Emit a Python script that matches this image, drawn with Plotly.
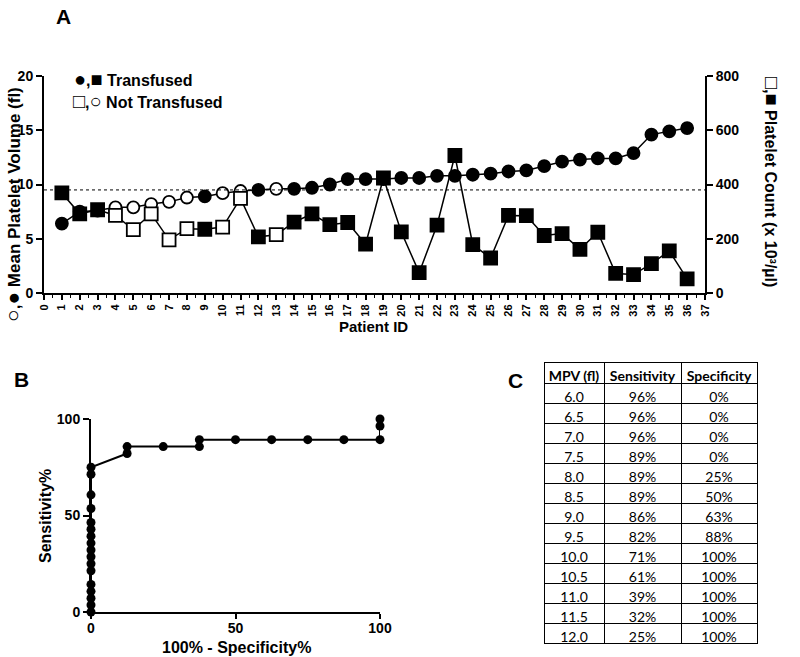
import plotly.graph_objects as go

# Panel A data
patient = list(range(1, 37))
mpv = [6.4, 7.5, 7.6, 7.9, 7.9, 8.2, 8.4, 8.8, 8.9, 9.2, 9.4, 9.5, 9.6, 9.6, 9.7, 10.0, 10.5, 10.5,
       10.5, 10.6, 10.6, 10.8, 10.8, 10.9, 11.0, 11.2, 11.3, 11.7, 12.1, 12.3, 12.4, 12.4, 12.9, 14.6, 14.9, 15.2]
platelets = [369, 292, 307, 286, 234, 292, 196, 237, 235, 243, 349, 207, 215, 261, 292, 252, 260, 180,
             424, 225, 75, 250, 507, 178, 129, 286, 285, 212, 219, 161, 224, 72, 68, 108, 155, 52]
transfused = [1, 1, 1, 0, 0, 0, 0, 0, 1, 0, 0, 1, 0] + [1] * 23
mpv_cutoff = 9.5

# Panel B data (ROC)
roc_x = [0] * 17 + [12.5, 12.5, 25, 37.5, 37.5, 50, 62.5, 75, 87.5, 100, 100, 100]
roc_y = [0, 3.6, 7.1, 10.7, 14.3, 21.4, 25, 28.6, 32.1, 35.7, 39.3, 42.9, 46.4, 53.6, 60.7, 71.4, 75.0,
         82.1, 85.7, 85.7, 85.7, 89.3, 89.3, 89.3, 89.3, 89.3, 89.3, 96.4, 100]

# Panel C data (table)
table_header = ["MPV\u00a0(fl)", "Sensitivity", "Specificity"]
mpv_cut = ["6.0", "6.5", "7.0", "7.5", "8.0", "8.5", "9.0", "9.5", "10.0", "10.5", "11.0", "11.5", "12.0"]
sensitivity = ["96%", "96%", "96%", "89%", "89%", "89%", "86%", "82%", "71%", "61%", "39%", "32%", "25%"]
specificity = ["0%", "0%", "0%", "0%", "25%", "50%", "63%", "88%", "100%", "100%", "100%", "100%", "100%"]

W, H = 800, 657
FONT = "Liberation Sans"
fill = ["black" if t else "white" for t in transfused]


def px(x):
    return x / W


def py(y):
    return 1 - y / H


def big(s, size=20):
    return f'<span style="font-size:{size}px">{s}</span>'


fig = go.Figure()

fig.add_trace(go.Scatter(
    x=patient, y=mpv, mode="lines+markers", xaxis="x", yaxis="y",
    line=dict(color="black", width=1.5),
    marker=dict(symbol="circle", size=12, color=fill, line=dict(color="black", width=1.8)),
    cliponaxis=False, showlegend=False,
))
fig.add_trace(go.Scatter(
    x=patient, y=platelets, mode="lines+markers", xaxis="x", yaxis="y2",
    line=dict(color="black", width=1.5),
    marker=dict(symbol="square", size=13, color=fill, line=dict(color="black", width=1.8)),
    cliponaxis=False, showlegend=False,
))
fig.add_trace(go.Scatter(
    x=roc_x, y=roc_y, mode="lines+markers", xaxis="x3", yaxis="y3",
    line=dict(color="black", width=2),
    marker=dict(symbol="circle", size=9, color="black"),
    cliponaxis=False, showlegend=False,
))

fig.add_trace(go.Table(
    domain=dict(x=[px(544), px(758)], y=[py(645), py(362)]),
    columnwidth=[60, 77, 76],
    header=dict(values=table_header,
                align="center", height=21, fill_color="white",
                line=dict(color="black", width=1),
                font=dict(family="Lato", size=14, color="black", weight="bold")),
    cells=dict(values=[mpv_cut, sensitivity, specificity],
               align="center", height=20, fill_color="white",
               line=dict(color="black", width=1),
               font=dict(family="Lato", size=14, color="black")),
))

axis_common = dict(showline=True, linecolor="black", linewidth=2, ticks="outside",
                   tickcolor="black", tickwidth=2, showgrid=False, zeroline=False,
                   automargin=False,
                   tickfont=dict(family=FONT, size=14, color="black", weight="bold"))

fig.update_layout(
    width=W, height=H, autosize=False,
    margin=dict(l=0, r=0, t=0, b=0, autoexpand=False),
    paper_bgcolor="white", plot_bgcolor="white",
    font=dict(family=FONT, color="black"),
    xaxis=dict(axis_common, domain=[px(44), px(705)], anchor="y", range=[0, 37],
               tickmode="linear", tick0=0, dtick=1, ticklen=5, tickangle=-90,
               tickfont=dict(family=FONT, size=11, color="black", weight="bold"),
               minor=dict(ticks="outside", dtick=0.5, ticklen=3, tickcolor="black", tickwidth=1)),
    yaxis=dict(axis_common, domain=[py(293), py(76)], anchor="x", range=[0, 20],
               tickvals=[0, 5, 10, 15, 20], ticklen=6),
    yaxis2=dict(axis_common, overlaying="y", side="right", anchor="x", range=[0, 800],
                tickvals=[0, 200, 400, 600, 800], ticklen=6),
    xaxis3=dict(axis_common, domain=[px(91), px(380)], anchor="y3", range=[0, 100],
                tickvals=[0, 50, 100], ticklen=5, ticklabelstandoff=-3),
    yaxis3=dict(axis_common, domain=[py(612), py(419)], anchor="x3", range=[0, 100],
                tickvals=[0, 50, 100], ticklen=6),
    shapes=[dict(type="line", xref="x", yref="y", x0=0, x1=37, y0=mpv_cutoff, y1=mpv_cutoff,
                 line=dict(color="black", width=1, dash="dot"))],
)

annots = [
    ("<b>A</b>", 63, 16, 21, 0),
    ("<b>B</b>", 21, 379, 21, 0),
    ("<b>C</b>", 515, 380, 21, 0),
    (f"<b>{big('●')},{big('■')} Transfused</b>", 133, 79, 16, 0),
    (f"<b>{big('□')},{big('○')} Not Transfused</b>", 148, 101, 16, 0),
    ("<b>Patient ID</b>", 373, 326, 15, 0),
    (f"<b>{big('○', 21)},{big('●', 21)} Mean Platelet Volume (fl)</b>", 12, 205, 17, -90),
    (f"<b>{big('□')},{big('■')} Platelet Count (x 10³/µl)</b>", 772, 182, 16, 90),
    ("<b>Sensitivity%</b>", 45, 516, 16, -90),
    ("<b>100% - Specificity%</b>", 236, 647, 16, 0),
]
fig.update_layout(annotations=[
    dict(text=t, x=px(x), y=py(y), xref="paper", yref="paper", showarrow=False,
         textangle=a, font=dict(family=FONT, size=s, color="black"),
         xanchor="center", yanchor="middle")
    for t, x, y, s, a in annots
])

fig.write_html("out.html", config={"displayModeBar": False},
               post_script="document.body.style.margin = '0';")
